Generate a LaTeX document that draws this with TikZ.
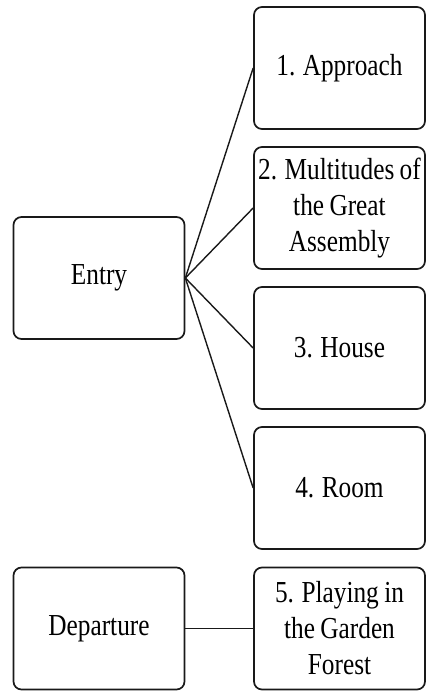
\documentclass[tikz,border=0pt]{standalone}
\usepackage{fontspec}
\setmainfont[FakeStretch=0.83,WordSpace=0.85]{Liberation Serif}
\begin{document}
\begin{tikzpicture}[x=1pt,y=-1pt,
  box/.style={draw=black!90,line width=1.7pt,rounded corners=8pt,minimum width=171pt,minimum height=122pt,align=center,inner sep=2pt,font=\fontsize{30.5}{36}\selectfont},
  conn/.style={draw=black!90,line width=1.4pt}]
\useasboundingbox (0,0) rectangle (427,694);
\node[box] (entry) at (99,278) {Entry};
\node[box] (b1) at (339.5,68) {1. Approach};
\node[box] (b2) at (339.5,208) {2. Multitudes of\\the Great\\Assembly};
\node[box] (b3) at (339.5,348) {3. House};
\node[box] (b4) at (339.5,488) {4. Room};
\node[box] (dep) at (99,628.5) {Departure};
\node[box] (b5) at (339.5,628.5) {5. Playing in\\the Garden\\Forest};
\draw[conn] (entry.east) -- (b1.west);
\draw[conn] (entry.east) -- (b2.west);
\draw[conn] (entry.east) -- (b3.west);
\draw[conn] (entry.east) -- (b4.west);
\draw[conn] (dep.east) -- (b5.west);
\end{tikzpicture}
\end{document}
